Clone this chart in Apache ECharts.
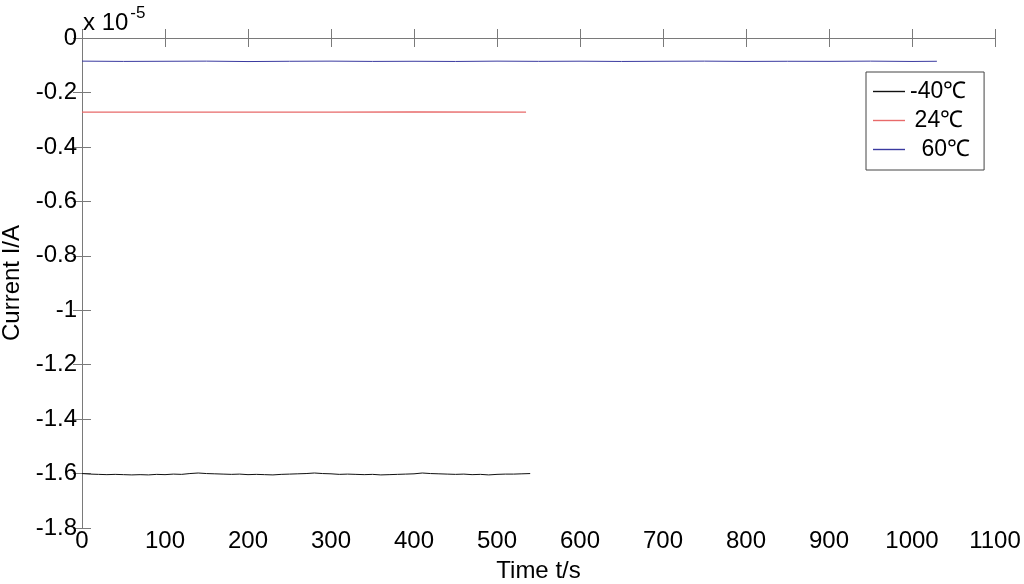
<!DOCTYPE html>
<html><head><meta charset="utf-8">
<script src="https://cdn.jsdelivr.net/npm/echarts@6/dist/echarts.min.js"></script>
<style>html,body{margin:0;padding:0;background:#fff}#c{width:1024px;height:584px}</style>
</head><body><div id="c"></div>
<script>
// values in units of 1e-5 A
const timeN40 = [0,10,20,30,40,50,60,70,80,90,100,110,120,130,140,150,160,170,180,190,200,210,220,230,240,250,260,270,280,290,300,310,320,330,340,350,360,370,380,390,400,410,420,430,440,450,460,470,480,490,500,510,520,530,540];
const curN40 = [-1.600,-1.602,-1.603,-1.604,-1.603,-1.604,-1.605,-1.604,-1.605,-1.603,-1.604,-1.602,-1.603,-1.600,-1.598,-1.600,-1.601,-1.602,-1.603,-1.602,-1.604,-1.603,-1.604,-1.605,-1.603,-1.602,-1.601,-1.600,-1.598,-1.600,-1.601,-1.603,-1.602,-1.603,-1.604,-1.603,-1.605,-1.604,-1.603,-1.602,-1.601,-1.598,-1.600,-1.601,-1.602,-1.603,-1.602,-1.604,-1.603,-1.605,-1.603,-1.602,-1.602,-1.601,-1.600];
const time24 = [0,100,200,300,400,535];
const cur24 = [-0.272,-0.2725,-0.272,-0.2722,-0.2718,-0.272];
const time60 = [0,50,100,150,200,250,300,350,400,450,500,550,600,650,700,750,800,850,900,950,1000,1030];
const cur60 = [-0.085,-0.086,-0.0855,-0.085,-0.0865,-0.0855,-0.085,-0.086,-0.0855,-0.0862,-0.085,-0.0858,-0.0852,-0.0862,-0.0855,-0.085,-0.086,-0.0855,-0.0858,-0.085,-0.0862,-0.0855];
const seriesNames = ['-40℃','24℃','60℃'];
const xTicks = {min:0, max:1100, interval:100};
const yTicks = {min:-1.8, max:0, interval:0.2};

const zip = (t, v) => t.map((x, i) => [x, v[i]]);
const font = '"Liberation Sans", Arial, sans-serif';
const fs = 24;
const axisCol = '#7a7a7a';
const chart = echarts.init(document.getElementById('c'));
const fmtY = v => { const r = Math.round(v * 10) / 10; return r === 0 ? '0' : String(r); };
const fmtX = v => String(Math.round(v));
chart.setOption({
  animation: false,
  backgroundColor: '#fff',
  grid: {left: 82, right: 29, top: 38, bottom: 56, containLabel: false, outerBoundsMode: 'none'},
  xAxis: [
    {type: 'value', min: xTicks.min, max: xTicks.max, interval: xTicks.interval, position: 'bottom',
     name: 'Time t/s', nameLocation: 'middle', nameGap: 31,
     nameTextStyle: {fontFamily: font, fontSize: fs, color: '#000'},
     axisLine: {show: true, lineStyle: {color: axisCol}},
     axisTick: {show: true, inside: true, length: 9, lineStyle: {color: axisCol}},
     axisLabel: {fontFamily: font, fontSize: fs, color: '#000', margin: 1, formatter: fmtX},
     splitLine: {show: false}},
    {type: 'value', min: xTicks.min, max: xTicks.max, interval: xTicks.interval, position: 'top',
     axisLine: {show: true, lineStyle: {color: axisCol}},
     axisTick: {show: true, inside: true, length: 9, lineStyle: {color: axisCol}},
     axisLabel: {show: false}, splitLine: {show: false}}
  ],
  yAxis: [
    {type: 'value', min: yTicks.min, max: yTicks.max, interval: yTicks.interval, position: 'left',
     name: 'Current I/A', nameLocation: 'middle', nameGap: 57, nameRotate: 90,
     nameTextStyle: {fontFamily: font, fontSize: fs, color: '#000'},
     axisLine: {show: true, lineStyle: {color: axisCol}},
     axisTick: {show: true, inside: true, length: 9, lineStyle: {color: axisCol}},
     axisLabel: {fontFamily: font, fontSize: fs, color: '#000', margin: 5, formatter: fmtY},
     splitLine: {show: false}},
    {type: 'value', min: yTicks.min, max: yTicks.max, interval: yTicks.interval, position: 'right',
     axisLine: {show: true, lineStyle: {color: axisCol}},
     axisTick: {show: true, inside: true, length: 9, lineStyle: {color: axisCol}},
     axisLabel: {show: false}, splitLine: {show: false}}
  ],
  legend: {
    orient: 'vertical', left: 866, top: 72,
    backgroundColor: '#fff', borderColor: '#444', borderWidth: 1,
    padding: [8, 14, 9, 7], itemGap: 6,
    itemWidth: 32, itemHeight: 22, icon: 'path://M0,0 L32,0 L32,1.4 L0,1.4 Z',
    textStyle: {fontFamily: font, fontSize: 23, color: '#000'},
    formatter: n => n === '-40℃' ? n : (n === '24℃' ? '\u2009' + n : '\u2002' + n),
    data: seriesNames
  },
  graphic: [{
    type: 'text', left: 83, top: 5,
    style: {text: '{a|x 10}{b|-5}', rich: {
      a: {fontFamily: font, fontSize: 24, fill: '#000', verticalAlign: 'bottom', lineHeight: 30},
      b: {fontFamily: font, fontSize: 17, fill: '#000', verticalAlign: 'top', lineHeight: 30, padding: [0, 0, 12, 2]}
    }}
  }],
  series: [
    {name: seriesNames[0], type: 'line', data: zip(timeN40, curN40), showSymbol: false, color: '#111',
     lineStyle: {width: 1, color: '#111'}},
    {name: seriesNames[1], type: 'line', data: zip(time24, cur24), showSymbol: false, color: '#e86a6a',
     lineStyle: {width: 1.3, color: '#e86a6a'}},
    {name: seriesNames[2], type: 'line', data: zip(time60, cur60), showSymbol: false, color: '#3a3aa0',
     lineStyle: {width: 1, color: '#3a3aa0'}}
  ]
});
</script></body></html>
